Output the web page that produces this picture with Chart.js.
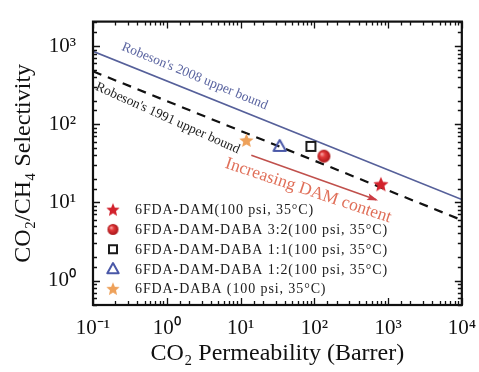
<!DOCTYPE html>
<html>
<head>
<meta charset="utf-8">
<script src="https://cdn.jsdelivr.net/npm/chart.js@4.4.0/dist/chart.umd.min.js"></script>
<style>
html, body { margin: 0; padding: 0; background: #fff; }
#caja { width: 479px; height: 372px; }
</style>
</head>
<body>
<div id="caja"><canvas id="grafica"></canvas></div>
<script>
// datos
const membranas = [
    '6FDA-DAM(100 psi, 35°C)',
    '6FDA-DAM-DABA 3:2(100 psi, 35°C)',
    '6FDA-DAM-DABA 1:1(100 psi, 35°C)',
    '6FDA-DAM-DABA 1:2(100 psi, 35°C)',
    '6FDA-DABA (100 psi, 35°C)'
];
const permeabilidad = [800, 135, 90, 34, 12];
const selectividad = [17, 39, 52, 52, 62];

const limite2008P = [0.1, 10000];
const limite2008S = [857, 10.9];
const limite1991P = [0.1, 10000];
const limite1991S = [475, 5.93];

const flechaP = [14, 690];
const flechaS = [40, 10.8];

const textos = ["Robeson's 2008 upper bound", "Robeson's 1991 upper bound", 'Increasing DAM content'];
const textosP = [2.39, 1.03, 83];
const textosS = [410, 119, 14.1];

const exponentes = {'-1': '⁻¹', '0': '⁰', '1': '¹', '2': '²', '3': '³', '4': '⁴'};

const grafica = document.getElementById('grafica');
const SERIF = "'Liberation Serif', 'Times New Roman', serif";

function estrella(color, r) {
    const c = document.createElement('canvas');
    const s = Math.ceil(r * 2 + 2);
    c.width = s; c.height = s;
    const ctx = c.getContext('2d');
    ctx.fillStyle = color;
    ctx.beginPath();
    for (let i = 0; i < 10; i++) {
        const ang = -Math.PI / 2 + i * Math.PI / 5;
        const rr = i % 2 === 0 ? r : r * 0.45;
        ctx.lineTo(s / 2 + rr * Math.cos(ang), s / 2 + 0.5 + rr * Math.sin(ang));
    }
    ctx.closePath();
    ctx.fill();
    return c;
}

function esfera(r) {
    const c = document.createElement('canvas');
    const s = Math.ceil(r * 2 + 2);
    c.width = s; c.height = s;
    const ctx = c.getContext('2d');
    const g = ctx.createRadialGradient(s / 2 - r * 0.35, s / 2 - r * 0.35, 0.5, s / 2, s / 2, r);
    g.addColorStop(0, '#f7a0a0');
    g.addColorStop(0.35, '#e23a3a');
    g.addColorStop(1, '#a81418');
    ctx.fillStyle = g;
    ctx.beginPath();
    ctx.arc(s / 2, s / 2, r, 0, Math.PI * 2);
    ctx.fill();
    return c;
}

function cuadro(color, lado) {
    const c = document.createElement('canvas');
    const s = lado + 4;
    c.width = s; c.height = s;
    const ctx = c.getContext('2d');
    ctx.strokeStyle = color; ctx.lineWidth = 2;
    ctx.strokeRect(2, 2, lado, lado);
    return c;
}

function triangulo(color, r) {
    const c = document.createElement('canvas');
    const s = Math.ceil(r * 2 + 4);
    c.width = s; c.height = s;
    const ctx = c.getContext('2d');
    ctx.strokeStyle = color; ctx.lineWidth = 2; ctx.lineJoin = 'round';
    ctx.beginPath();
    ctx.moveTo(s / 2, s / 2 - r);
    ctx.lineTo(s / 2 + r * 0.95, s / 2 + r * 0.7);
    ctx.lineTo(s / 2 - r * 0.95, s / 2 + r * 0.7);
    ctx.closePath();
    ctx.stroke();
    return c;
}

const simbolos = [
    estrella('#d2222c', 8),
    esfera(6.5),
    cuadro('#1a1a1a', 9),
    triangulo('#4a58a8', 6.5),
    estrella('#eea15a', 7.5)
];
const simbolosLeyenda = [
    estrella('#d2222c', 7),
    esfera(5.5),
    cuadro('#1a1a1a', 8),
    triangulo('#4a58a8', 6),
    estrella('#eea15a', 7)
];

function etiqueta(v) {
    const e = Math.log10(v);
    const r = Math.round(e);
    if (Math.abs(e - r) > 1e-6) return '';
    return '10' + exponentes[String(r)];
}

function esMayor(v) {
    const e = Math.log10(v);
    return Math.abs(e - Math.round(e)) < 1e-6;
}

const extras = {
    id: 'extras',
    afterDatasetsDraw(chart) {
        const {ctx, scales: {x, y}} = chart;
        ctx.save();

        // punta de la flecha
        const x0 = x.getPixelForValue(flechaP[0]), y0 = y.getPixelForValue(flechaS[0]);
        const x1 = x.getPixelForValue(flechaP[1]), y1 = y.getPixelForValue(flechaS[1]);
        const ang = Math.atan2(y1 - y0, x1 - x0);
        ctx.translate(x1, y1);
        ctx.rotate(ang);
        ctx.fillStyle = '#cc3c44';
        ctx.beginPath();
        ctx.moveTo(2, 0);
        ctx.lineTo(-9, -3.5);
        ctx.lineTo(-7, 0);
        ctx.lineTo(-9, 3.5);
        ctx.closePath();
        ctx.fill();
        ctx.setTransform(1, 0, 0, 1, 0, 0);

        // textos inclinados
        const pendiente2008 = Math.atan2(
            y.getPixelForValue(limite2008S[1]) - y.getPixelForValue(limite2008S[0]),
            x.getPixelForValue(limite2008P[1]) - x.getPixelForValue(limite2008P[0]));
        const estilos = [
            {color: '#5a64a0', font: '13.5px ' + SERIF, ang: pendiente2008 + 0.01},
            {color: '#222', font: '13.5px ' + SERIF, ang: pendiente2008 + 0.04},
            {color: '#e0705a', font: '17.5px ' + SERIF, ang: ang - 0.02}
        ];
        textos.forEach((t, i) => {
            ctx.save();
            ctx.translate(x.getPixelForValue(textosP[i]), y.getPixelForValue(textosS[i]));
            ctx.rotate(estilos[i].ang);
            ctx.font = estilos[i].font;
            ctx.fillStyle = estilos[i].color;
            ctx.textAlign = 'center';
            ctx.textBaseline = 'middle';
            ctx.fillText(t, 0, 0);
            ctx.restore();
        });

        // leyenda
        const a = chart.chartArea;
        ctx.font = '14px ' + SERIF;
        ctx.letterSpacing = '0.9px';
        ctx.fillStyle = '#1a1a1a';
        ctx.textAlign = 'left';
        ctx.textBaseline = 'middle';
        membranas.forEach((m, i) => {
            const yy = a.top + 193 - 5 + i * 19.8;
            const img = simbolosLeyenda[i];
            ctx.drawImage(img, a.left + 20 - img.width / 2, yy - img.height / 2);
            ctx.fillText(m, a.left + 42, yy + 1);
        });
        ctx.restore();
    },
    afterDraw(chart) {
        const {ctx, chartArea: a, scales: {x, y}} = chart;
        ctx.save();
        ctx.strokeStyle = '#111';
        ctx.lineWidth = 1.3;
        ctx.beginPath();
        x.ticks.forEach(t => {
            const px = Math.round(x.getPixelForValue(t.value)) + 0.5;
            const l = esMayor(t.value) ? 7 : 4;
            ctx.moveTo(px, a.bottom); ctx.lineTo(px, a.bottom - l);
            ctx.moveTo(px, a.top); ctx.lineTo(px, a.top + l);
        });
        y.ticks.forEach(t => {
            const py = Math.round(y.getPixelForValue(t.value)) + 0.5;
            const l = esMayor(t.value) ? 7 : 4;
            ctx.moveTo(a.left, py); ctx.lineTo(a.left + l, py);
            ctx.moveTo(a.right, py); ctx.lineTo(a.right - l, py);
        });
        ctx.stroke();
        ctx.lineWidth = 2.2;
        ctx.strokeRect(a.left, a.top, a.right - a.left, a.bottom - a.top);
        ctx.restore();
    }
};

const puntos = membranas.map((m, i) => ({
    label: m,
    type: 'scatter',
    data: [{x: permeabilidad[i], y: selectividad[i]}],
    pointStyle: simbolos[i],
    pointRadius: 7,
    order: 1
}));

const myChart = new Chart(grafica, {
    type: 'scatter',
    data: {
        datasets: [
            {
                label: "Robeson's 2008 upper bound",
                type: 'line',
                data: limite2008P.map((p, i) => ({x: p, y: limite2008S[i]})),
                borderColor: '#56609a',
                borderWidth: 1.6,
                pointRadius: 0,
                order: 3
            },
            {
                label: "Robeson's 1991 upper bound",
                type: 'line',
                data: limite1991P.map((p, i) => ({x: p, y: limite1991S[i]})),
                borderColor: '#111',
                borderWidth: 2.2,
                borderDash: [9, 7],
                pointRadius: 0,
                order: 3
            },
            {
                label: 'flecha',
                type: 'line',
                data: flechaP.map((p, i) => ({x: p, y: flechaS[i]})),
                borderColor: '#c0504c',
                borderWidth: 1.5,
                pointRadius: 0,
                order: 2
            },
            ...puntos
        ]
    },
    options: {
        responsive: true,
        maintainAspectRatio: false,
        animation: false,
        layout: {padding: {top: 15, right: 16, left: 0, bottom: 0}},
        plugins: {legend: {display: false}, tooltip: {enabled: false}},
        scales: {
            x: {
                type: 'logarithmic',
                min: 0.1,
                max: 10000,
                afterFit: s => { s.height = 67; },
                grid: {display: false},
                border: {display: false},
                ticks: {
                    autoSkip: false,
                    maxRotation: 0,
                    padding: 3,
                    color: '#111',
                    font: {family: SERIF, size: 21},
                    callback: v => etiqueta(v)
                },
                title: {
                    display: true,
                    text: 'CO₂ Permeability (Barrer)',
                    color: '#111',
                    font: {family: SERIF, size: 24},
                    padding: {top: 0, bottom: 4}
                }
            },
            y: {
                type: 'logarithmic',
                min: 0.487,
                max: 2053,
                afterFit: s => { s.width = 93; },
                grid: {display: false},
                border: {display: false},
                ticks: {
                    autoSkip: false,
                    padding: 9,
                    color: '#111',
                    font: {family: SERIF, size: 21},
                    callback: v => etiqueta(v)
                },
                title: {
                    display: true,
                    text: 'CO₂/CH₄ Selectivity',
                    color: '#111',
                    font: {family: SERIF, size: 24},
                    padding: {top: 9, bottom: 0}
                }
            }
        }
    },
    plugins: [extras]
});
</script>
</body>
</html>
